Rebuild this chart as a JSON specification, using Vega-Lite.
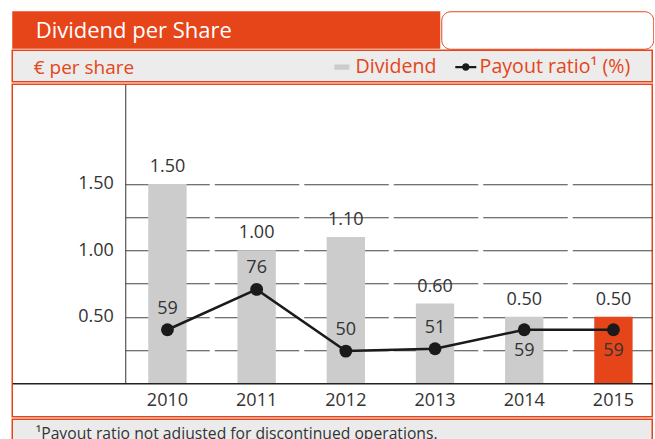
{
  "$schema": "https://vega.github.io/schema/vega-lite/v6.json",
  "background": "white",
  "padding": {"left": 11.25, "top": 10.25, "right": 0, "bottom": 0},
  "spacing": 0,
  "config": {
    "font": "Open Sans",
    "view": {"strokeWidth": 1.5},
    "concat": {"spacing": 0}
  },
  "vconcat": [
    {
      "spacing": 0,
      "hconcat": [
        {
          "width": 428, "height": 37.5,
          "view": {"fill": "#e6451a", "stroke": null},
          "data": {"values": [{}]},
          "mark": {"type": "point", "opacity": 0},
          "encoding": {
            "x": {"datum": 0.5, "type": "quantitative", "scale": {"domain": [0, 1]},
              "axis": {"orient": "top", "domain": false, "ticks": false, "labels": false, "grid": false, "title": "Dividend per Share", "titleColor": "white", "titleFontSize": 22, "titleFontWeight": "normal", "titleFont": "Open Sans", "titleAnchor": "start", "titleAlign": "left", "titleBaseline": "middle", "titleX": 23, "titleY": 19}}
          }
        },
        {
          "width": 212, "height": 37.5,
          "view": {"fill": "white", "stroke": "#e6451a", "cornerRadius": 9},
          "data": {"values": [{}]},
          "mark": {"type": "point", "opacity": 0},
          "encoding": {}
        }
      ]
    },
    {
      "width": 640, "height": 31.5,
      "view": {"fill": "#ececec", "stroke": "#e6451a"},
      "data": {"values": [{"series": "Dividend"}, {"series": "Payout ratio¹ (%)"}]},
      "mark": {"type": "point", "opacity": 0, "filled": true},
      "encoding": {
        "x": {"datum": 0.5, "type": "quantitative", "scale": {"domain": [0, 1]},
          "axis": {"orient": "top", "domain": false, "ticks": false, "labels": false, "grid": false, "title": "€ per share", "titleColor": "#e6451a", "titleFontSize": 19, "titleFontWeight": "normal", "titleFont": "Open Sans", "titleAnchor": "start", "titleAlign": "left", "titleBaseline": "middle", "titleX": 21, "titleY": 17}},
        "color": {
          "field": "series", "type": "nominal",
          "scale": {"domain": ["Dividend", "Payout ratio¹ (%)"], "range": ["#cccccc", "#1a1a1a"]},
          "legend": {"orient": "none", "legendX": 319.75, "legendY": 45.75, "direction": "horizontal", "title": null, "labelColor": "#e6451a", "labelFontSize": 19.6, "labelFont": "Open Sans", "symbolSize": 225, "labelOffset": 4, "columnPadding": 18, "padding": 0, "symbolStrokeWidth": 0, "symbolOpacity": 1}
        },
        "shape": {
          "field": "series", "type": "nominal",
          "scale": {"domain": ["Dividend", "Payout ratio¹ (%)"], "range": ["M-1,-0.35H1V0.35H-1Z", "M-1.4,-0.16H1.4V0.16H-1.4Z M-0.5,0A0.5,0.5 0 1,1 0.5,0A0.5,0.5 0 1,1 -0.5,0Z"]},
          "legend": {"orient": "none", "legendX": 319.75, "legendY": 45.75, "direction": "horizontal", "title": null, "labelColor": "#e6451a", "labelFontSize": 19.6, "labelFont": "Open Sans", "symbolSize": 225, "labelOffset": 4, "columnPadding": 18, "padding": 0, "symbolStrokeWidth": 0, "symbolOpacity": 1}
        }
      }
    },
    {
      "width": 640, "height": 332.5,
      "view": {"fill": "white", "stroke": "#e6451a"},
      "data": {"values": [
        {"year": "2010", "dividend": 1.5, "ratio": 59},
        {"year": "2011", "dividend": 1.0, "ratio": 76},
        {"year": "2012", "dividend": 1.1, "ratio": 50},
        {"year": "2013", "dividend": 0.6, "ratio": 51},
        {"year": "2014", "dividend": 0.5, "ratio": 59},
        {"year": "2015", "dividend": 0.5, "ratio": 59}
      ]},
      "encoding": {
        "x": {
          "field": "year", "type": "nominal", "sort": null,
          "scale": {"paddingInner": 0.57, "paddingOuter": 0.87245, "align": 0.8738},
          "axis": {"orient": "bottom", "offset": -33.5, "title": null, "labelAngle": 0, "ticks": false, "tickSize": 0, "domainColor": "#222222", "domainWidth": 1.5, "labelFontSize": 18, "labelColor": "#333333", "labelPadding": 8, "grid": false, "zindex": 1, "labelFont": "Open Sans"}
        }
      },
      "layer": [
        {
          "layer": [
            {
              "mark": {"type": "bar"},
              "encoding": {
                "y": {
                  "field": "dividend", "type": "quantitative",
                  "scale": {"domain": [0, 2.25], "range": [299, 0], "nice": false},
                  "axis": {"orient": "left", "offset": -113, "title": null, "values": [0.25, 0.5, 0.75, 1, 1.25, 1.5], "labelExpr": "datum.value == 0.5 || datum.value == 1 || datum.value == 1.5 ? format(datum.value, '.2f') : ''", "grid": true, "gridDash": [0, 113, 84, 5, 84.5, 5, 84.5, 5, 84.5, 5, 84.5, 5, 300], "gridColor": "#444444", "gridWidth": 1, "domainColor": "#333333", "domainWidth": 1, "ticks": false, "tickSize": 0, "labelPadding": 12, "labelFontSize": 18, "labelColor": "#333333", "labelFont": "Open Sans"}
                },
                "color": {"condition": {"test": "datum.year == '2015'", "value": "#e6451a"}, "value": "#cccccc"}
              }
            },
            {
              "mark": {"type": "text", "dy": -17, "fontSize": 18, "color": "#333333", "font": "Open Sans"},
              "encoding": {
                "y": {"field": "dividend", "type": "quantitative"},
                "text": {"field": "dividend", "type": "quantitative", "format": ".2f"}
              }
            }
          ]
        },
        {
          "layer": [
            {
              "mark": {"type": "line", "color": "#1a1a1a", "strokeWidth": 2.5},
              "encoding": {
                "y": {"field": "ratio", "type": "quantitative", "scale": {"domain": [36.45, 162.45], "range": [299, 0], "nice": false, "zero": false}, "axis": null}
              }
            },
            {
              "mark": {"type": "point", "filled": true, "color": "#1a1a1a", "size": 165, "opacity": 1},
              "encoding": {"y": {"field": "ratio", "type": "quantitative"}}
            },
            {
              "transform": [{"filter": "datum.year <= '2013'"}],
              "mark": {"type": "text", "dy": -21, "fontSize": 18, "color": "#333333", "font": "Open Sans"},
              "encoding": {"y": {"field": "ratio", "type": "quantitative"}, "text": {"field": "ratio", "type": "quantitative"}}
            },
            {
              "transform": [{"filter": "datum.year >= '2014'"}],
              "mark": {"type": "text", "dy": 21, "fontSize": 18, "color": "#333333", "font": "Open Sans"},
              "encoding": {"y": {"field": "ratio", "type": "quantitative"}, "text": {"field": "ratio", "type": "quantitative"}}
            }
          ]
        }
      ],
      "resolve": {"scale": {"y": "independent"}}
    },
    {
      "width": 640, "height": 30,
      "view": {"fill": "#ebebeb", "stroke": "#e6451a"},
      "data": {"values": [{}]},
      "mark": {"type": "point", "opacity": 0},
      "encoding": {
        "x": {"datum": 0.5, "type": "quantitative", "scale": {"domain": [0, 1]},
          "axis": {"orient": "top", "domain": false, "ticks": false, "labels": false, "grid": false, "title": "¹Payout ratio not adjusted for discontinued operations.", "titleColor": "#333333", "titleFontSize": 15.7, "titleFontWeight": "normal", "titleFont": "Open Sans", "titleAnchor": "start", "titleAlign": "left", "titleBaseline": "middle", "titleX": 23, "titleY": 14}}
      }
    }
  ]
}
